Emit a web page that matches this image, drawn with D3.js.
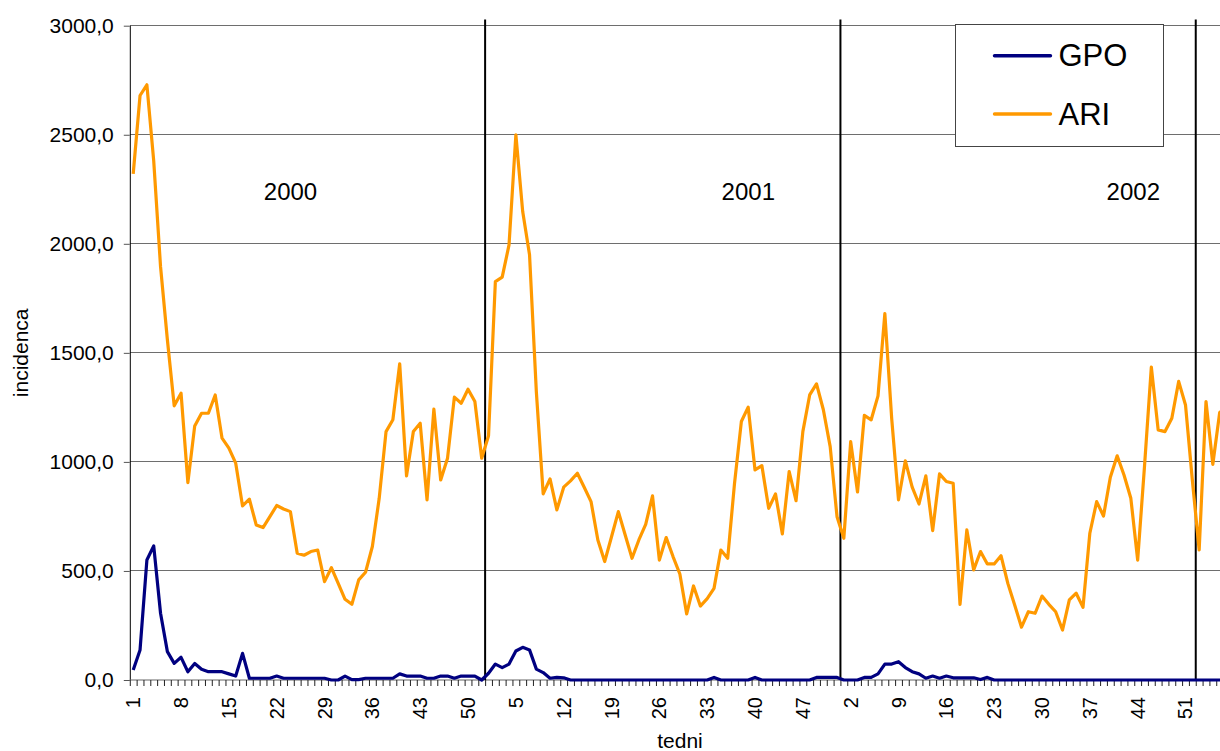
<!DOCTYPE html>
<html>
<head>
<meta charset="utf-8">
<script src="https://cdn.jsdelivr.net/npm/d3@7"></script>
<style>
  html,body{margin:0;padding:0;background:#fff;}
  svg{display:block;font-family:"Liberation Sans",Arial,sans-serif;}
</style>
</head>
<body>
<div id="chart"></div>
<script>
// weeks shown per year (2003 is only partly visible, cut at right edge)
const years = [2000, 2001, 2002, 2003];
const weeksPerYear = [52, 52, 52, 5];
const yearLabels = ["2000", "2001", "2002"];
const yTicks = [0, 500, 1000, 1500, 2000, 2500, 3000];

const ari = [
  2321,2680,2729,2380,1895,1560,1257,1315,905,1165,1223,1223,1307,1109,1063,994,798,829,711,699,
  749,800,784,772,581,572,589,596,451,515,443,370,347,459,494,612,833,1139,1193,1450,
  936,1139,1177,826,1242,917,1017,1297,1269,1333,1277,1017,
  1120,1827,1847,1995,2500,2148,1950,1320,853,922,780,884,913,948,884,818,642,543,
  657,772,665,558,642,714,844,550,653,566,486,303,431,339,373,420,596,558,902,1185,
  1251,963,983,787,853,670,956,822,1139,1307,1358,1239,1070,749,
  650,1093,862,1213,1193,1303,1680,1200,826,1005,884,807,936,685,945,910,902,347,688,505,
  589,532,532,570,443,344,242,313,306,385,347,313,229,367,398,333,673,818,752,930,
  1028,940,833,550,980,1435,1147,1139,1200,1369,1261,917,
  596,1277,989,1226,1250
];
const gpo = [
  46,138,550,615,306,130,76,104,38,76,49,38,38,38,28,18,122,8,8,8,
  8,18,8,8,8,8,8,8,8,0,0,18,2,2,8,8,8,8,8,28,
  18,18,18,8,8,18,18,8,18,18,18,0,
  31,73,57,73,133,150,138,50,34,8,12,10,0,0,0,0,0,0,0,0,
  0,0,0,0,0,0,0,0,0,0,0,0,0,12,0,0,0,0,0,12,
  0,0,0,0,0,0,0,0,12,12,12,12,0,0,
  0,12,12,28,73,73,84,57,38,28,8,18,8,18,10,10,10,10,2,12,
  0,0,0,0,0,0,0,0,0,0,0,0,0,0,0,0,0,0,0,0,
  0,0,0,0,0,0,0,0,0,0,0,0,
  0,0,0,0,0
];

const W = 1220, H = 751;
const MG = {t: 25.7, l: 129.8, b: 71};
const step = 6.833;

// build category list: one entry per week
const cats = [];
years.forEach((y, yi) => { for (let w = 1; w <= weeksPerYear[yi]; w++) cats.push({yr: y, wk: w, i: cats.length}); });

const svg = d3.select("#chart").append("svg").attr("width", W).attr("height", H);

const xSc = d3.scaleBand().domain(cats.map(d => d.i)).range([MG.l, MG.l + cats.length * step]).paddingInner(0).paddingOuter(0);
const ySc = d3.scaleLinear().domain([0, 3000]).range([H - MG.b, MG.t]);
const cx = i => xSc(i) + xSc.bandwidth() / 2;
const y0 = ySc(0);

// Grid
svg.append("g").selectAll("line").data(yTicks.filter(v => v > 0)).join("line")
  .attr("x1", MG.l).attr("x2", W).attr("y1", d => ySc(d)).attr("y2", d => ySc(d))
  .attr("stroke", "#6e6e6e").attr("stroke-width", 1).attr("shape-rendering", "crispEdges");

// Y axis
const yAx = svg.append("g").attr("transform", `translate(${MG.l},0)`)
  .call(d3.axisLeft(ySc).tickValues(yTicks).tickSize(6).tickPadding(10).tickFormat(v => d3.format(".1f")(v).replace(".", ",")));
yAx.select(".domain").attr("stroke", "#000").attr("d", `M0.5,${y0}V${MG.t}`);
yAx.selectAll(".tick line").attr("stroke", "#555");
yAx.selectAll(".tick text").attr("font-size", 21).attr("fill", "#000").attr("font-family", "'Liberation Sans',Arial,sans-serif");

// X axis: tick at every week boundary, label every 7th week
const xg = svg.append("g");
xg.append("line").attr("x1", MG.l).attr("x2", W).attr("y1", y0).attr("y2", y0)
  .attr("stroke", "#666").attr("stroke-width", 1.2);
xg.selectAll(".xt").data(cats).join("line").attr("class", "xt")
  .attr("x1", d => xSc(d.i) + 0.5).attr("x2", d => xSc(d.i) + 0.5)
  .attr("y1", y0).attr("y2", y0 + 6).attr("stroke", "#222").attr("stroke-width", 1);
xg.selectAll(".xl").data(cats.filter(d => d.i % 7 === 0)).join("text").attr("class", "xl")
  .attr("transform", d => `translate(${cx(d.i) + 7},${y0 + 17}) rotate(-90)`)
  .attr("text-anchor", "end").attr("font-size", 20).attr("fill", "#000")
  .text(d => d.wk);

// Axis titles
svg.append("text").attr("transform", `translate(28,${(MG.t + y0) / 2}) rotate(-90)`)
  .attr("text-anchor", "middle").attr("font-size", 21).attr("fill", "#000").text("incidenca");
svg.append("text").attr("x", 680).attr("y", 748).attr("text-anchor", "middle")
  .attr("font-size", 21).attr("fill", "#000").text("tedni");

// Year separators
const bounds = [];
let acc = 0;
weeksPerYear.slice(0, 3).forEach(n => { acc += n; bounds.push(acc); });
svg.append("g").selectAll("line").data(bounds).join("line")
  .attr("x1", d => xSc(d)).attr("x2", d => xSc(d)).attr("y1", 19.5).attr("y2", y0)
  .attr("stroke", "#000").attr("stroke-width", 2);

// Year labels
const yrX = [290.5, 748.3, 1133.3];
svg.append("g").selectAll("text").data(yearLabels).join("text")
  .attr("x", (d, i) => yrX[i]).attr("y", 200).attr("text-anchor", "middle")
  .attr("font-size", 24).attr("fill", "#000").text(d => d);

// Lines
const line = d3.line().x((d, i) => cx(i)).y(d => ySc(d));
svg.append("path").datum(gpo).attr("d", line).attr("fill", "none")
  .attr("stroke", "#000080").attr("stroke-width", 3.2).attr("stroke-linejoin", "round");
svg.append("path").datum(ari).attr("d", line).attr("fill", "none")
  .attr("stroke", "#ff9900").attr("stroke-width", 3.2).attr("stroke-linejoin", "round");

// Legend
const lg = svg.append("g").attr("transform", "translate(955.5,24.5)");
lg.append("rect").attr("width", 208).attr("height", 122).attr("fill", "#fff")
  .attr("stroke", "#444").attr("stroke-width", 1);
const series = [{name: "GPO", col: "#000080"}, {name: "ARI", col: "#ff9900"}];
series.forEach((s, i) => {
  const yy = 31.2 + i * 58.3;
  lg.append("line").attr("x1", 39).attr("x2", 95).attr("y1", yy).attr("y2", yy)
    .attr("stroke", s.col).attr("stroke-width", 3.4).attr("stroke-linecap", "round");
  lg.append("text").attr("x", 103).attr("y", yy + 10.5).attr("font-size", 31).attr("fill", "#000").text(s.name);
});
</script>
</body>
</html>
